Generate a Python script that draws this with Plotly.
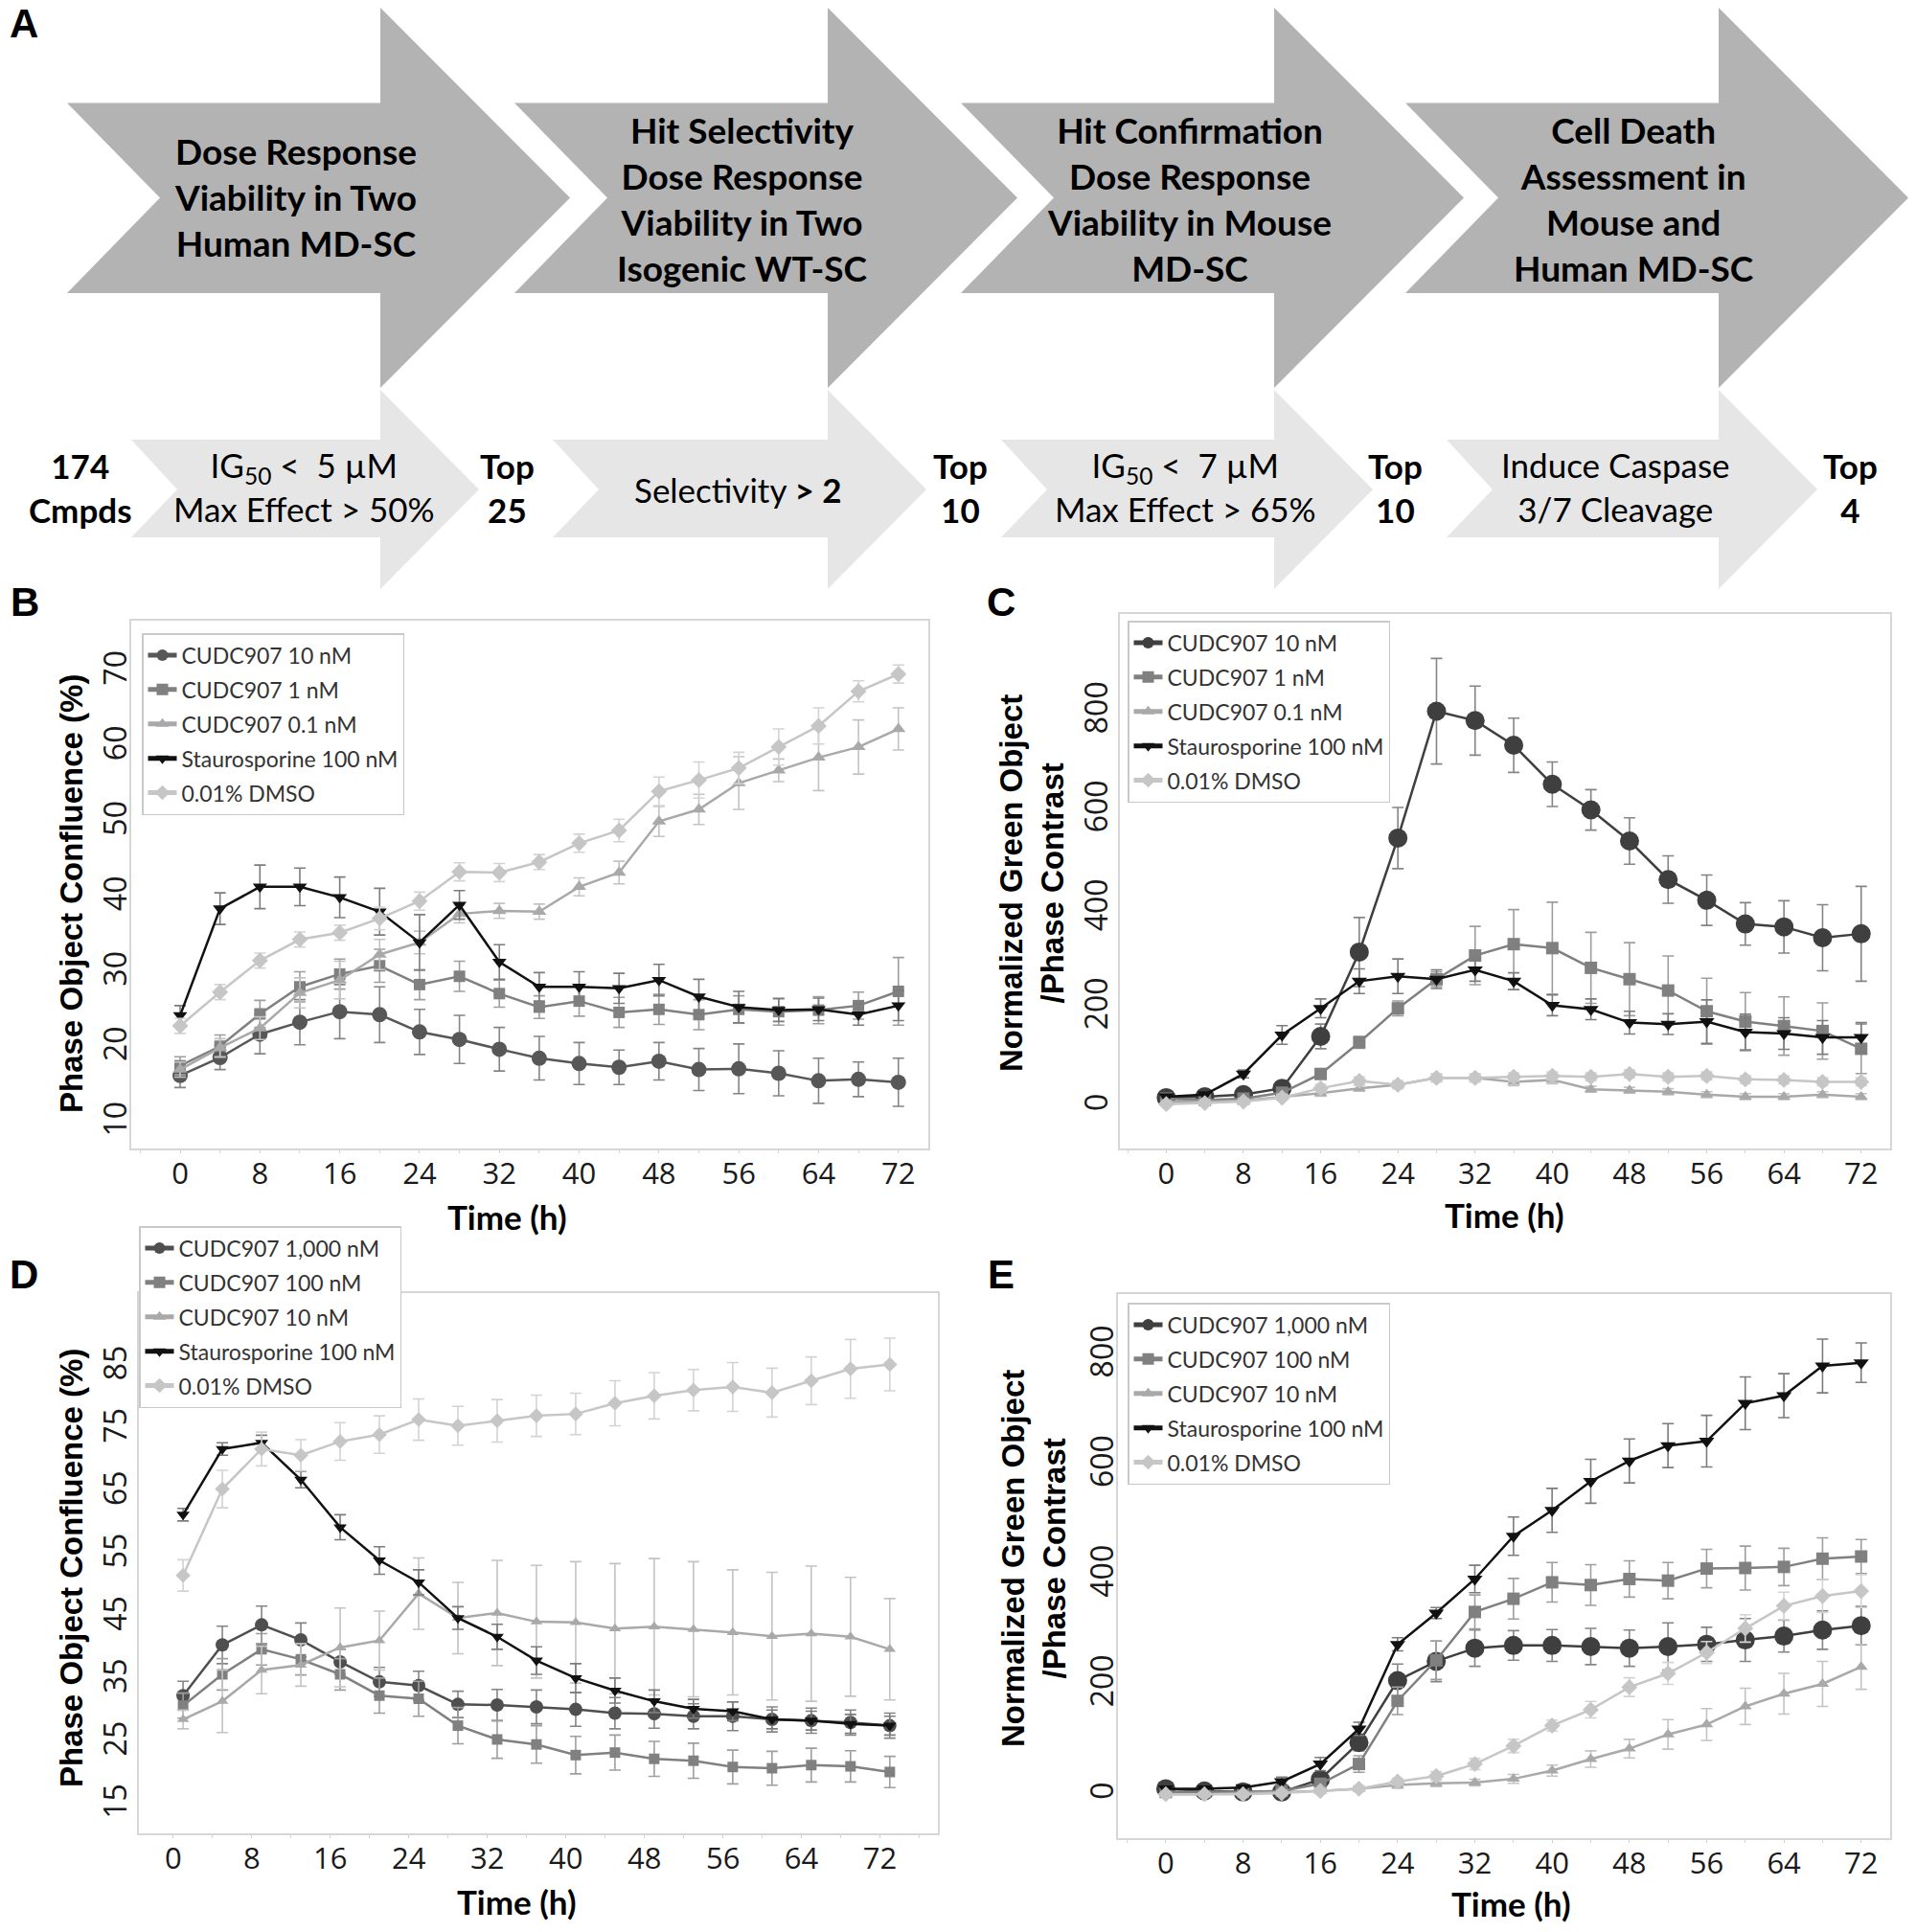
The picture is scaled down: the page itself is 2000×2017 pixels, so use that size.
import plotly.graph_objects as go

W, H = 2000, 2017

# ---------------- data ----------------
hours_bce = [0, 4, 8, 12, 16, 20, 24, 28, 32, 36, 40, 44, 48, 52, 56, 60, 64, 68, 72]
hours_d = [1, 5, 9, 13, 17, 21, 25, 29, 33, 37, 41, 45, 49, 53, 57, 61, 65, 69, 73]
x_ticks = [0, 8, 16, 24, 32, 40, 48, 56, 64, 72]

names_bc = ["CUDC907 10 nM", "CUDC907 1 nM", "CUDC907 0.1 nM", "Staurosporine 100 nM", "0.01% DMSO"]
names_de = ["CUDC907 1,000 nM", "CUDC907 100 nM", "CUDC907 10 nM", "Staurosporine 100 nM", "0.01% DMSO"]

# Panel B: phase object confluence (%)
b_cudc10 = [16.4, 18.8, 21.9, 23.5, 24.9, 24.5, 22.2, 21.2, 19.9, 18.7, 18.0, 17.5, 18.3, 17.2, 17.3, 16.7, 15.7, 15.9, 15.5]
b_cudc10_err = [1.6, 1.6, 2.6, 3.0, 3.6, 3.7, 3.0, 3.2, 2.9, 2.9, 2.8, 2.3, 2.5, 2.8, 3.3, 3.0, 3.0, 2.3, 3.2]
b_cudc1 = [17.7, 20.3, 24.6, 28.2, 29.9, 31.0, 28.5, 29.6, 27.3, 25.5, 26.3, 24.8, 25.2, 24.5, 25.2, 24.9, 25.1, 25.7, 27.6]
b_cudc1_err = [1.2, 1.5, 1.8, 2.0, 2.0, 2.2, 2.0, 2.0, 1.8, 1.5, 2.0, 2.0, 2.0, 2.0, 1.8, 1.8, 1.8, 1.8, 4.5]
b_cudc01 = [17.2, 20.1, 22.7, 27.4, 29.1, 32.5, 34.1, 37.9, 38.3, 38.2, 41.5, 43.4, 50.2, 51.8, 55.3, 57.0, 58.7, 60.1, 62.5]
b_cudc01_err = [1.0, 1.2, 1.5, 2.0, 2.5, 2.0, 1.5, 1.2, 1.0, 1.0, 1.2, 1.5, 2.0, 2.0, 3.5, 1.5, 4.4, 3.6, 2.8]
b_stauro = [24.4, 38.6, 41.5, 41.5, 40.1, 38.2, 34.1, 39.1, 31.5, 28.2, 28.2, 28.0, 29.1, 26.9, 25.5, 25.1, 25.2, 24.5, 25.7]
b_stauro_err = [1.3, 2.1, 2.9, 2.5, 2.7, 3.1, 3.7, 1.9, 2.3, 1.9, 2.0, 2.0, 2.1, 2.3, 2.1, 1.5, 1.5, 1.4, 2.0]
b_dmso = [23.0, 27.5, 31.7, 34.5, 35.4, 37.3, 39.6, 43.5, 43.4, 44.8, 47.3, 49.0, 54.2, 55.7, 57.3, 60.1, 62.9, 67.5, 69.8]
b_dmso_err = [1.0, 1.0, 1.0, 1.0, 1.0, 1.5, 1.2, 1.2, 1.2, 1.0, 1.2, 1.5, 1.9, 2.4, 2.1, 2.4, 2.4, 1.4, 1.2]

# Panel C: normalized green object / phase contrast
c_cudc10 = [19, 21, 25, 38, 143, 314, 545, 802, 783, 733, 654, 602, 539, 461, 419, 371, 365, 343, 351]
c_cudc10_err = [5, 5, 6, 8, 25, 70, 62, 107, 70, 55, 45, 41, 47, 48, 51, 43, 53, 67, 96]
c_cudc1 = [17, 14, 17, 29, 67, 131, 200, 259, 307, 330, 322, 282, 259, 236, 194, 173, 164, 154, 118]
c_cudc1_err = [5, 5, 5, 6, 10, 12, 15, 15, 59, 70, 93, 72, 74, 70, 67, 59, 59, 57, 50]
c_cudc01 = [11, 11, 13, 21, 28, 38, 45, 59, 59, 51, 55, 36, 34, 31, 25, 21, 21, 25, 21]
c_cudc01_err = [4, 4, 4, 5, 6, 6, 6, 8, 8, 8, 8, 6, 6, 6, 6, 6, 6, 6, 6]
c_stauro = [21, 25, 67, 146, 200, 255, 265, 259, 278, 255, 206, 198, 171, 168, 173, 152, 149, 141, 141]
c_stauro_err = [5, 5, 8, 19, 19, 25, 35, 19, 23, 17, 21, 21, 23, 21, 44, 36, 32, 34, 30]
c_dmso = [6, 8, 11, 19, 38, 53, 45, 59, 59, 61, 63, 61, 67, 61, 63, 56, 55, 51, 51]
c_dmso_err = [4, 4, 4, 5, 8, 8, 8, 8, 8, 8, 8, 8, 8, 8, 8, 8, 8, 8, 8]

# Panel D: phase object confluence (%)
d_cudc1000 = [32.6, 40.7, 43.9, 41.5, 38.0, 34.8, 34.2, 31.2, 31.1, 30.8, 30.4, 29.8, 29.7, 29.3, 29.3, 28.8, 28.6, 28.3, 27.8]
d_cudc1000_err = [2.3, 3.0, 3.0, 2.7, 2.0, 2.3, 2.3, 2.1, 2.5, 2.7, 2.7, 2.5, 2.3, 2.0, 2.3, 2.0, 2.0, 2.0, 2.0]
d_cudc100 = [31.0, 36.0, 40.0, 38.4, 36.0, 32.6, 32.1, 27.8, 25.6, 24.8, 23.1, 23.5, 22.5, 22.2, 21.2, 21.0, 21.5, 21.3, 20.4]
d_cudc100_err = [2.0, 2.5, 2.5, 2.5, 2.5, 2.8, 2.8, 2.9, 3.0, 3.0, 3.0, 2.8, 2.8, 2.8, 2.7, 2.7, 2.7, 2.5, 2.5]
d_cudc10 = [28.8, 31.7, 36.7, 37.5, 40.3, 41.4, 48.9, 45.0, 45.8, 44.4, 44.3, 43.3, 43.6, 43.2, 42.7, 42.1, 42.5, 42.0, 40.0]
d_cudc10_err = [1.5, 5.0, 3.8, 3.4, 6.3, 4.7, 5.7, 5.7, 8.4, 9.0, 9.7, 10.4, 10.9, 10.8, 10.0, 10.2, 10.8, 9.5, 8.1]
d_stauro = [61.5, 72.0, 73.0, 67.1, 59.5, 54.2, 50.7, 45.0, 42.0, 38.2, 35.4, 33.4, 31.7, 30.5, 30.1, 28.8, 28.6, 28.1, 27.8]
d_stauro_err = [1.0, 1.0, 1.2, 1.3, 2.0, 2.2, 2.0, 1.8, 2.0, 2.2, 2.3, 2.0, 1.8, 1.5, 1.5, 1.5, 1.5, 1.5, 1.5]
d_dmso = [51.8, 65.6, 72.0, 71.0, 73.2, 74.3, 76.7, 75.7, 76.5, 77.3, 77.6, 79.3, 80.5, 81.4, 81.9, 81.0, 82.9, 84.8, 85.5]
d_dmso_err = [2.5, 3.0, 2.7, 2.5, 3.0, 3.0, 3.3, 3.1, 3.4, 3.3, 3.3, 3.6, 3.7, 3.3, 3.9, 3.9, 3.8, 4.7, 4.2]

# Panel E: normalized green object / phase contrast
e_cudc1000 = [12, 8, 6, 6, 29, 96, 209, 244, 268, 273, 273, 271, 268, 271, 275, 283, 290, 301, 309]
e_cudc1000_err = [5, 5, 5, 5, 8, 15, 30, 37, 33, 27, 29, 33, 33, 43, 31, 39, 29, 35, 35]
e_cudc100 = [6, 6, 6, 8, 21, 57, 172, 246, 334, 358, 388, 383, 394, 391, 413, 414, 416, 431, 435]
e_cudc100_err = [4, 4, 4, 4, 8, 15, 25, 35, 31, 37, 36, 37, 33, 33, 35, 40, 34, 38, 31]
e_cudc10 = [2, 2, 4, 6, 8, 12, 19, 22, 23, 30, 45, 66, 85, 111, 129, 162, 185, 203, 234]
e_cudc10_err = [3, 3, 3, 3, 4, 5, 6, 6, 6, 8, 10, 15, 17, 27, 29, 33, 37, 41, 41]
e_stauro = [12, 12, 14, 25, 57, 121, 275, 332, 394, 472, 519, 572, 609, 637, 645, 714, 728, 782, 788]
e_stauro_err = [4, 4, 5, 8, 12, 12, 12, 10, 25, 35, 40, 40, 40, 40, 47, 48, 40, 49, 36]
e_dmso = [2, 2, 2, 4, 8, 12, 25, 35, 57, 90, 127, 156, 197, 222, 260, 304, 345, 363, 372]
e_dmso_err = [3, 3, 3, 3, 4, 5, 6, 8, 10, 12, 10, 15, 17, 20, 20, 25, 25, 30, 30]

# Panel A text
big_steps = [
    "Dose Response<br>Viability in Two<br>Human MD-SC",
    "Hit Selectivity<br>Dose Response<br>Viability in Two<br>Isogenic WT-SC",
    "Hit Confirmation<br>Dose Response<br>Viability in Mouse<br>MD-SC",
    "Cell Death<br>Assessment in<br>Mouse and<br>Human MD-SC",
]
small_steps = [
    "IG<sub>50</sub> <  5 µM<br>Max Effect > 50%",
    "Selectivity <b>> 2</b>",
    "IG<sub>50</sub> <  7 µM<br>Max Effect > 65%",
    "Induce Caspase<br>3/7 Cleavage",
]
counts = ["174<br>Cmpds", "Top<br>25", "Top<br>10", "Top<br>10", "Top<br>4"]

# ---------------- helpers / styles ----------------
def fx(px):
    return px / W

def fy(py):
    return 1 - py / H

symbols = ["circle", "square", "triangle-up", "triangle-down", "diamond"]
base_colors = ["#474747", "#808080", "#a9a9a9", "#111111", "#c6c6c6"]
first_color = ["#575757", "#3f3f3f", "#4f4f4f", "#3f3f3f"]
err_colors = ["#858585", "#9e9e9e", "#c3c3c3", "#7c7c7c", "#d3d3d3"]

fig = go.Figure()

panels = [
    ("", "legend", hours_bce,
     [(b_cudc10, b_cudc10_err), (b_cudc1, b_cudc1_err), (b_cudc01, b_cudc01_err),
      (b_stauro, b_stauro_err), (b_dmso, b_dmso_err)], names_bc, [16, 12, 13, 13, 13]),
    ("2", "legend2", hours_bce,
     [(c_cudc10, c_cudc10_err), (c_cudc1, c_cudc1_err), (c_cudc01, c_cudc01_err),
      (c_stauro, c_stauro_err), (c_dmso, c_dmso_err)], names_bc, [20, 13, 12, 14, 13]),
    ("3", "legend3", hours_d,
     [(d_cudc1000, d_cudc1000_err), (d_cudc100, d_cudc100_err), (d_cudc10, d_cudc10_err),
      (d_stauro, d_stauro_err), (d_dmso, d_dmso_err)], names_de, [14, 11, 11, 12, 12]),
    ("4", "legend4", hours_bce,
     [(e_cudc1000, e_cudc1000_err), (e_cudc100, e_cudc100_err), (e_cudc10, e_cudc10_err),
      (e_stauro, e_stauro_err), (e_dmso, e_dmso_err)], names_de, [20, 13, 12, 14, 13]),
]

for pi, (suf, leg, xs, series, names, sizes) in enumerate(panels):
    cols = [first_color[pi]] + base_colors[1:]
    for k in range(5):
        ys, es = series[k]
        fig.add_trace(go.Scatter(
            x=xs, y=ys, name=names[k], mode="lines+markers",
            xaxis="x" + suf, yaxis="y" + suf, legend=leg,
            legendgroup=f"p{pi}s{k}", legendrank=k + 1,
            line=dict(color=cols[k], width=2.5),
            marker=dict(symbol=symbols[k], size=sizes[k], color=cols[k], line=dict(width=0)),
            error_y=dict(type="data", array=es, visible=True, color=err_colors[k],
                         thickness=1.6, width=6),
        ))

# ---------------- axes ----------------
tick_font = dict(family="Open Sans", size=31, color="#1a1a1a")
ytick_font = dict(family="Open Sans", size=32, color="#1a1a1a")

def xaxis(domain_px, rng, anchor):
    return dict(domain=[fx(domain_px[0]), fx(domain_px[1])], range=rng, anchor=anchor,
                tickmode="array", tickvals=x_ticks, ticks="outside", ticklen=3,
                tickcolor="#d0d0d0", tickfont=tick_font, ticklabelstandoff=-5,
                minor=dict(dtick=4, tick0=0, ticks="outside", ticklen=3, tickcolor="#d8d8d8"),
                showline=True, linecolor="#d6d6d6", linewidth=1.5, mirror=True,
                showgrid=False, zeroline=False)

def yaxis(domain_px, rng, anchor, tickvals, standoff):
    return dict(domain=[fy(domain_px[1]), fy(domain_px[0])], range=rng, anchor=anchor,
                tickmode="array", tickvals=tickvals, tickangle=-90, ticks="",
                tickfont=ytick_font, ticklabelstandoff=standoff,
                showline=True, linecolor="#d6d6d6", linewidth=1.5, mirror=True,
                showgrid=False, zeroline=False)

conf_ticks_b = [10, 20, 30, 40, 50, 60, 70]
conf_ticks_d = [15, 25, 35, 45, 55, 65, 75, 85]
green_ticks = [0, 200, 400, 600, 800]

fig.update_layout(
    xaxis=xaxis((137, 969), [-4.9, 75.0], "y"),
    yaxis=yaxis((648, 1199), [6.7, 76.9], "x", conf_ticks_b, -10),
    xaxis2=xaxis((1169, 1973), [-4.8, 75.0], "y2"),
    yaxis2=yaxis((641, 1199), [-84, 999], "x2", green_ticks, -2),
    xaxis3=xaxis((145, 979), [-3.5, 77.9], "y3"),
    yaxis3=yaxis((1350, 1914), [10.6, 96.9], "x3", conf_ticks_d, -2),
    xaxis4=xaxis((1167, 1973), [-4.95, 75.0], "y4"),
    yaxis4=yaxis((1351, 1919), [-78, 913], "x4", green_ticks, -10),
)

def legend_at(left, top):
    return dict(x=fx(left), y=fy(top), xanchor="left", yanchor="top",
                bgcolor="white", bordercolor="#c9c9c9", borderwidth=1.5,
                font=dict(family="Lato", size=23, color="#333333"),
                itemwidth=30, tracegroupgap=3, itemsizing="constant",
                traceorder="grouped")

fig.update_layout(
    legend=legend_at(148, 661),
    legend2=legend_at(1177, 648),
    legend3=legend_at(145, 1280),
    legend4=legend_at(1177, 1360),
)

# ---------------- panel A: arrows ----------------
def poly(points):
    return "M " + " L ".join(f"{fx(x):.5f},{fy(y):.5f}" for x, y in points) + " Z"

shapes = []
big_left = [70, 537, 1003, 1467]
small_left = [137, 577, 1045, 1510]
for i in range(4):
    L = big_left[i]
    hb = L + 327
    tip = L + 525
    bt, bb, ht, hbot, mid = 107.5, 306, 8, 405, 206.5
    shapes.append(dict(type="path", xref="paper", yref="paper", layer="below",
                       path=poly([(L, bt), (hb, bt), (hb, ht), (tip, mid), (hb, hbot),
                                  (hb, bb), (L, bb), (L + 97, mid)]),
                       fillcolor="#b3b3b3", line=dict(width=0)))
    sl = small_left[i]
    stip = hb + 103
    sbt, sbb, sht, shbot, smid = 459, 561, 407, 615, 511
    shapes.append(dict(type="path", xref="paper", yref="paper", layer="below",
                       path=poly([(sl, sbt), (hb, sbt), (hb, sht), (stip, smid), (hb, shbot),
                                  (hb, sbb), (sl, sbb), (sl + 48, smid)]),
                       fillcolor="#e6e6e6", line=dict(width=0)))
fig.update_layout(shapes=shapes)

ann = []
def text(x, y, s, size, bold=False, family="Lato", angle=0, color="#000"):
    ann.append(dict(x=fx(x), y=fy(y), xref="paper", yref="paper", text=s, showarrow=False,
                    xanchor="center", yanchor="middle", textangle=angle,
                    font=dict(family=family, size=size, color=color,
                              weight="bold" if bold else "normal")))

big_y = [205, 207, 207, 207]
for i in range(4):
    text(big_left[i] + 238, big_y[i], big_steps[i], 37, bold=True)
small_x = [317, 770, 1237, 1686]
small_y = [508, 511, 508, 508]
for i in range(4):
    text(small_x[i], small_y[i], small_steps[i], 35)
count_x = [84, 529, 1002, 1456, 1931]
for i in range(5):
    text(count_x[i], 509, counts[i], 35, bold=True)

# panel letters
for lab, x, y in [("A", 25, 25), ("B", 26, 629), ("C", 1045, 629), ("D", 25, 1330), ("E", 1045, 1330)]:
    text(x, y, lab, 42, bold=True, family="Liberation Sans")

# axis titles
text(74, 933, "Phase Object Confluence (%)", 33, bold=True, family="Liberation Sans", angle=-90)
text(74, 1637, "Phase Object Confluence (%)", 33, bold=True, family="Liberation Sans", angle=-90)
text(1077, 922, "Normalized Green Object<br>/Phase Contrast", 33, bold=True, family="Liberation Sans", angle=-90)
text(1079, 1627, "Normalized Green Object<br>/Phase Contrast", 33, bold=True, family="Liberation Sans", angle=-90)
for x, y in [(529, 1270), (1570, 1268), (539, 1985), (1577, 1987)]:
    text(x, y, "Time (h)", 35, bold=True)

fig.update_layout(annotations=ann)

fig.update_layout(
    width=W, height=H, margin=dict(l=0, r=0, t=0, b=0),
    paper_bgcolor="white", plot_bgcolor="white", showlegend=True,
)

fig.write_html("out.html", config={"displayModeBar": False},
               post_script="document.body.style.margin='0';document.body.style.padding='0';")
